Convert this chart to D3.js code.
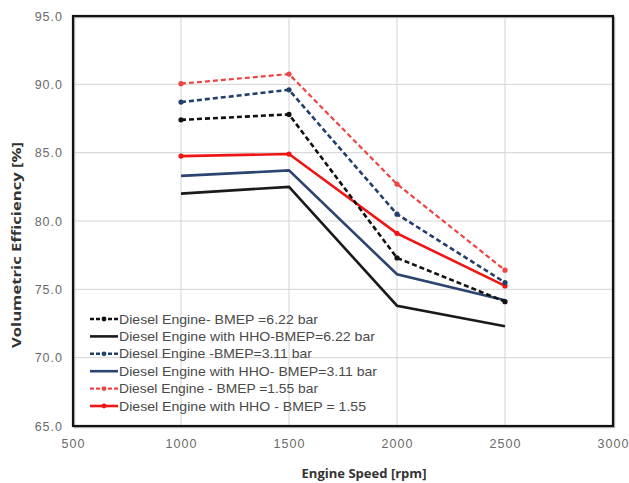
<!DOCTYPE html>
<html><head><meta charset="utf-8">
<script src="https://cdn.jsdelivr.net/npm/d3@7"></script>
<style>body{margin:0;background:#fff}svg{display:block}</style>
</head><body><svg id="c" width="629" height="483"></svg>
<script>
const speeds = [1000, 1500, 2000, 2500];
const seriesNames = [
  "Diesel Engine- BMEP =6.22 bar",
  "Diesel Engine with HHO-BMEP=6.22 bar",
  "Diesel Engine -BMEP=3.11 bar",
  "Diesel Engine with HHO- BMEP=3.11 bar",
  "Diesel Engine - BMEP =1.55 bar",
  "Diesel Engine with HHO - BMEP = 1.55"
];
const de622 = [87.4, 87.8, 77.3, 74.1];
const hho622 = [82.0, 82.5, 73.8, 72.3];
const de311 = [88.7, 89.6, 80.5, 75.5];
const hho311 = [83.3, 83.7, 76.1, 74.2];
const de155 = [90.05, 90.75, 82.7, 76.4];
const hho155 = [84.75, 84.9, 79.1, 75.25];
const xTicks = [500, 1000, 1500, 2000, 2500, 3000];
const yTicks = [65, 70, 75, 80, 85, 90, 95];

const seriesData = [de622, hho622, de311, hho311, de155, hho155];
const styles = [
  {color:"#111", dash:"5,3", w:2.6, marker:true},
  {color:"#1a1a1a", dash:null, w:2.6, marker:false},
  {color:"#243f6b", dash:"5,3", w:2.6, marker:true},
  {color:"#2b4570", dash:null, w:2.6, marker:false},
  {color:"#ee4444", dash:"5,3", w:2.2, marker:true},
  {color:"#f01515", dash:null, w:2.6, marker:true}
];
// rendered legend text widths (style)
const legendTextWidths = [199, 256, 193, 258, 199, 247];

const svg = d3.select("#c");
const L = 73, R = 613, T = 16, B = 426;
const x = d3.scaleLinear().domain([500, 3000]).range([L, R]);
const y = d3.scaleLinear().domain([65, 95]).range([B, T]);

// grid
svg.append("g").selectAll("line").data(xTicks.slice(1, -1)).join("line")
  .attr("x1", d => x(d)).attr("x2", d => x(d)).attr("y1", T).attr("y2", B)
  .attr("stroke", "#d4d4d4").attr("stroke-width", 1);
svg.append("g").selectAll("line").data(yTicks.slice(1, -1)).join("line")
  .attr("y1", d => y(d)).attr("y2", d => y(d)).attr("x1", L).attr("x2", R)
  .attr("stroke", "#d4d4d4").attr("stroke-width", 1);

// axes labels
const xa = svg.append("g").attr("transform", `translate(0,${B})`)
  .call(d3.axisBottom(x).tickValues(xTicks).tickSize(0).tickPadding(13).tickFormat(d3.format("d")));
const ya = svg.append("g").attr("transform", `translate(${L},0)`)
  .call(d3.axisLeft(y).tickValues(yTicks).tickSize(0).tickPadding(10).tickFormat(d3.format(".1f")));
[xa, ya].forEach(a => {
  a.select(".domain").remove();
  a.selectAll("text").attr("font-family", "Liberation Sans, Arial, sans-serif")
    .attr("font-size", 12.5).attr("letter-spacing", "1px").attr("fill", "#6a6a6a");
});

// frame shadow + frame
svg.append("rect").attr("x", L + 1.5).attr("y", T + 1.5).attr("width", R - L).attr("height", B - T)
  .attr("fill", "none").attr("stroke", "#bbb").attr("stroke-width", 1.5);
svg.append("rect").attr("x", L).attr("y", T).attr("width", R - L).attr("height", B - T)
  .attr("fill", "none").attr("stroke", "#111").attr("stroke-width", 2.2);

const line = d3.line().x((d, i) => x(speeds[i])).y(d => y(d));
const order = [1, 3, 5, 0, 2, 4];
order.forEach(k => {
  const s = styles[k];
  svg.append("path").datum(seriesData[k]).attr("d", line)
    .attr("fill", "none").attr("stroke", s.color).attr("stroke-width", s.w)
    .attr("stroke-dasharray", s.dash);
  if (s.marker) {
    svg.append("g").selectAll("circle").data(seriesData[k]).join("circle")
      .attr("cx", (d, i) => x(speeds[i])).attr("cy", d => y(d)).attr("r", 2.6)
      .attr("fill", s.color);
  }
});

// legend
const lg = svg.append("g");
seriesNames.forEach((n, i) => {
  const s = styles[i];
  const yy = 319 + i * 17.4;
  lg.append("line").attr("x1", 90).attr("x2", 118).attr("y1", yy).attr("y2", yy)
    .attr("stroke", s.color).attr("stroke-width", s.w).attr("stroke-dasharray", s.dash ? "4,2" : null);
  if (s.marker) lg.append("circle").attr("cx", 104).attr("cy", yy).attr("r", 2.4).attr("fill", s.color);
  lg.append("text").attr("x", 119).attr("y", yy + 4.6).text(n)
    .attr("font-family", "Liberation Sans, Arial, sans-serif").attr("font-size", 13)
    .attr("fill", "#4a4a4a").attr("textLength", legendTextWidths[i]).attr("lengthAdjust", "spacingAndGlyphs");
});

// titles
svg.append("text").attr("x", 364).attr("y", 478).attr("text-anchor", "middle")
  .attr("font-family", "Open Sans, sans-serif").attr("font-weight", "bold").attr("font-size", 12)
  .attr("fill", "#333").attr("textLength", 125).attr("lengthAdjust", "spacingAndGlyphs")
  .text("Engine Speed [rpm]");
svg.append("text").attr("transform", "translate(21,245) rotate(-90)").attr("text-anchor", "middle")
  .attr("font-family", "Open Sans, sans-serif").attr("font-weight", "bold").attr("font-size", 12)
  .attr("fill", "#333").attr("textLength", 206).attr("lengthAdjust", "spacingAndGlyphs")
  .text("Volumetric Efficiency [%]");
</script></body></html>
